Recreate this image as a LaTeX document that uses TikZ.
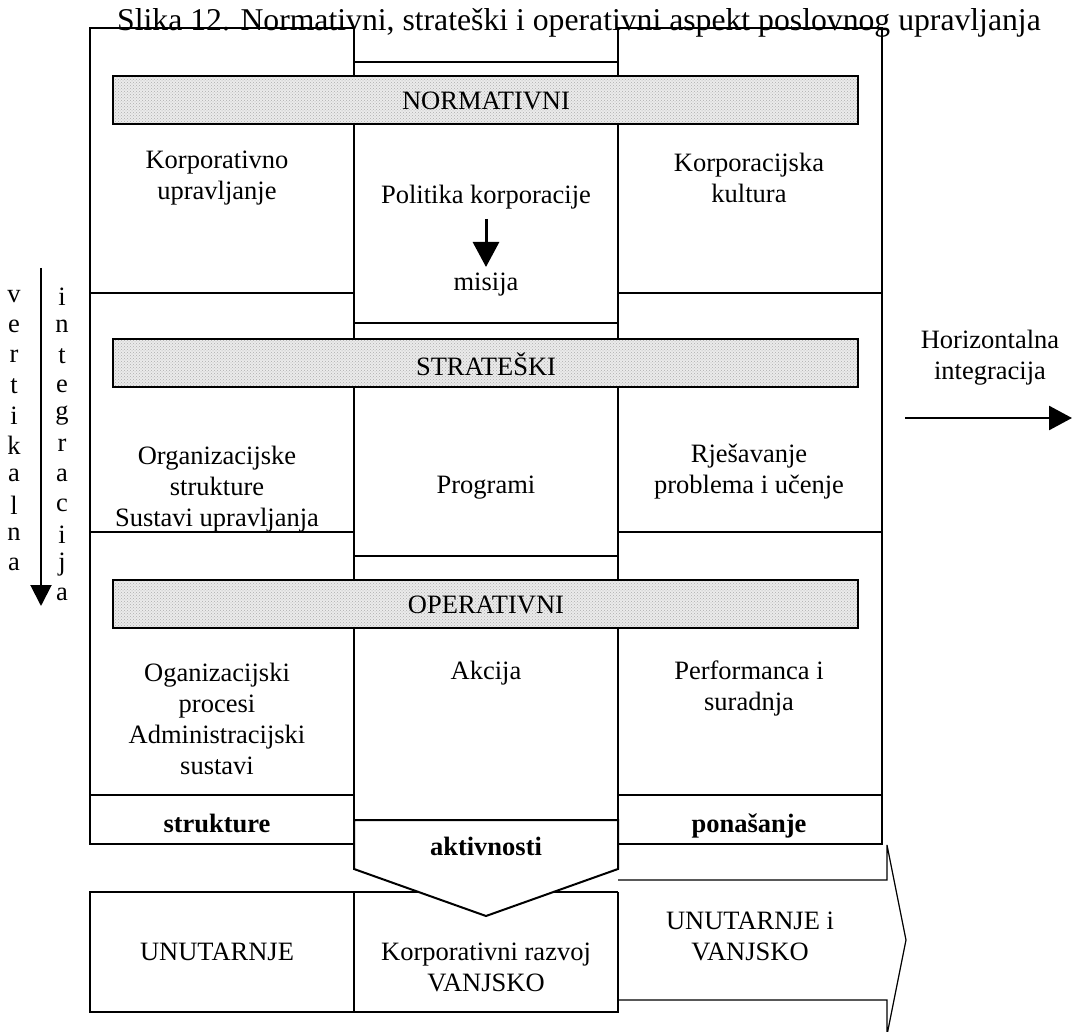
\documentclass[tikz,border=0pt]{standalone}
\usepackage{fontspec}
\setmainfont{Liberation Serif}
\usetikzlibrary{arrows.meta,patterns}
\begin{document}
\begin{tikzpicture}[x=1pt,y=-1pt,
  frame/.style={line width=2pt},
  thinframe/.style={line width=1.2pt},
  band/.style={draw, line width=1.6pt, preaction={fill=black!8}, pattern=crosshatch dots, pattern color=black!32},
  txt/.style={font=\fontsize{26.5}{31}\selectfont, align=center, inner sep=0pt},
  boldtxt/.style={txt, font=\fontsize{26.5}{31}\selectfont\bfseries},
  bigarrow/.style={line width=2.6pt, -{Triangle[width=24pt,length=23pt]}},
]
\useasboundingbox (0,0) rectangle (1072,1032);

% title
\node[txt, font=\fontsize{31.7}{36}\selectfont, anchor=base] (title) at (579,31) {Slika 12. Normativni, strateški i operativni aspekt poslovnog upravljanja};

% left and right columns
\draw[frame] (90,28) rectangle (354,844);
\draw[frame] (90,293) -- (354,293) (90,532) -- (354,532) (90,795) -- (354,795);
\draw[frame] (618,28) rectangle (882,844);
\draw[frame] (618,293) -- (882,293) (618,532) -- (882,532) (618,795) -- (882,795);

% middle column boxes
\draw[frame] (354,62) rectangle (618,323);
\draw[frame] (354,323) -- (354,339) (618,323) -- (618,339);
\draw[frame] (354,339) rectangle (618,556);
\draw[frame] (354,556) -- (354,580) (618,556) -- (618,580);
\draw[frame] (354,580) rectangle (618,820);

% level bands
\draw[band] (113,76) rectangle (858,124);
\node[txt] (norm) at (486,101) {NORMATIVNI};
\draw[band] (113,339) rectangle (858,387);
\node[txt] (strat) at (486,364) {STRATEŠKI};
\draw[band] (113,580) rectangle (858,628);
\node[txt] (oper) at (486,605) {OPERATIVNI};

% bottom row
\draw[frame] (90,892) rectangle (354,1012);
\draw[frame] (354,892) rectangle (618,1012);

% outward arrow
\draw[thinframe, fill=white] (618,880) -- (887,880) -- (887,845) -- (906,940) -- (887,1035) -- (887,1000) -- (618,1000);
\draw[frame] (618,892) -- (618,1012);

% activities pentagon
\draw[frame, fill=white] (354,820) -- (618,820) -- (618,869) -- (486,916) -- (354,869) -- cycle;

% cell texts
\node[txt] (kupr) at (217,178) {Korporativno\\upravljanje};
\node[txt] (polit) at (486,197) {Politika korporacije};
\node[txt] (misija) at (486,285) {misija};
\node[txt] (kult) at (749,178) {Korporacijska\\kultura};
\node[txt] (orgs) at (217,489) {Organizacijske\\strukture\\Sustavi upravljanja};
\node[txt] (prog) at (486,488) {Programi};
\node[txt] (rjes) at (749,472) {Rješavanje\\problema i učenje};
\node[txt] (orgp) at (217,719) {Oganizacijski\\procesi\\Administracijski\\sustavi};
\node[txt] (akc) at (486,673) {Akcija};
\node[txt] (perf) at (749,688) {Performanca i\\suradnja};
\node[boldtxt, anchor=base] (strk) at (217,832) {strukture};
\node[boldtxt, anchor=base] (pona) at (749,832) {ponašanje};
\node[boldtxt, anchor=base] (aktv) at (486,855) {aktivnosti};
\node[txt] (unut) at (217,952) {UNUTARNJE};
\node[txt] (razv) at (486,967) {Korporativni razvoj\\VANJSKO};
\node[txt] (unva) at (750,936) {UNUTARNJE i\\VANJSKO};

% policy to mission arrow
\coordinate (pa) at (486,219);
\coordinate (pb) at (486,267);
\draw[line width=3pt, -{Triangle[width=26pt,length=25pt]}] (pa) -- (pb);

% vertical integration
\coordinate (va) at (41,268);
\coordinate (vb) at (41,606);
\draw[line width=2pt, -{Triangle[width=21pt,length=21pt]}] (va) -- (vb);
\foreach \c [count=\i from 0] in {v,e,r,t,i,k,a,l,n,a}
  \node[txt] (vl\i) at (14,297+29.7*\i) {\c};
\foreach \c [count=\i from 0] in {i,n,t,e,g,r,a,c,i,j,a}
  \node[txt] (il\i) at (62,297+29.7*\i) {\c};

% horizontal integration
\node[txt] (horiz) at (990,358) {Horizontalna\\integracija};
\coordinate (ha) at (905,418);
\coordinate (hb) at (1072,418);
\draw[bigarrow] (ha) -- (hb);
\end{tikzpicture}
\end{document}
